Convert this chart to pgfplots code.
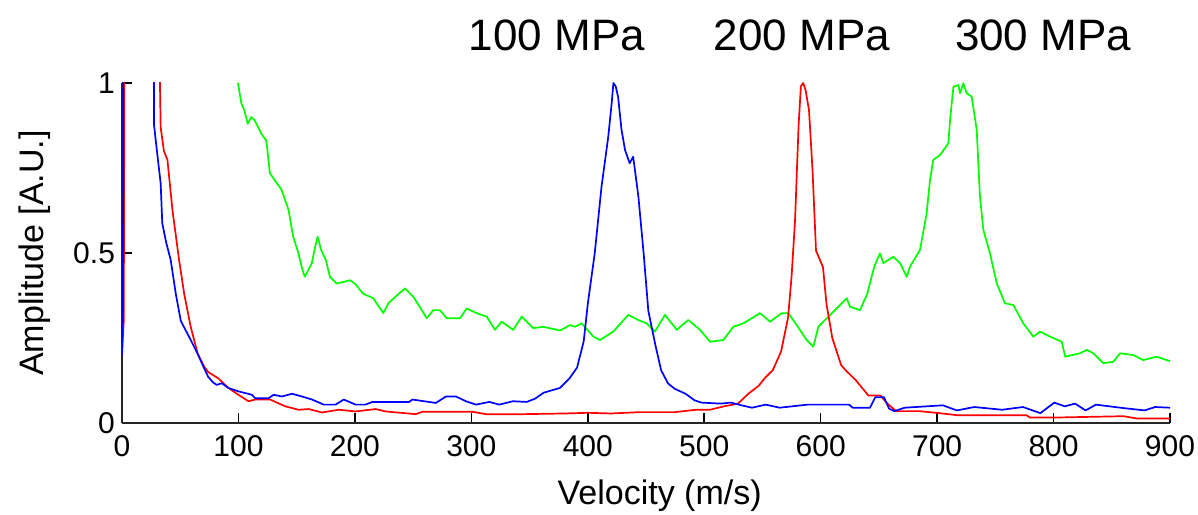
\documentclass[border=0pt]{standalone}
\usepackage{fontspec}
\setmainfont{Liberation Sans}
\usepackage{pgfplots}
\pgfplotsset{compat=1.18}
\definecolor{mblue}{RGB}{0,0,255}
\definecolor{mred}{RGB}{255,0,0}
\definecolor{mgreen}{RGB}{0,255,0}
\begin{document}
\begin{tikzpicture}[x=1pt,y=1pt]
\useasboundingbox (0,0) rectangle (599,257);
\begin{axis}[at={(61pt,45.5pt)}, anchor=south west,
  scale only axis, width=524pt, height=170pt,
  xmin=0, xmax=900, ymin=0, ymax=1,
  axis x line=bottom, axis y line=left,
  axis line style={-, line width=1pt, black!85},
  tick align=inside, major tick length=5pt,
  tick style={black, line width=0.8pt},
  xtick={0,100,...,900}, ytick={0,0.5,1},
  ticklabel style={font=\fontsize{15}{18}\selectfont},
  xticklabel style={yshift=-2.5pt},
  /pgf/number format/assume math mode=true,
  xlabel={Velocity (m/s)}, ylabel={Amplitude [A.U.]},
  label style={font=\fontsize{17}{20}\selectfont},
  xlabel style={at={(axis description cs:0.513,-0.215)}, anchor=center},
  ylabel style={at={(axis description cs:-0.083,0.5)}, anchor=center},
  clip mode=individual,
  every axis plot/.append style={line width=0.85pt, line join=round},
]
\addplot[mgreen] coordinates {(99.6,1.0) (102.5,0.94) (105,0.92) (108,0.88) (111,0.9) (114,0.89) (119.8,0.85) (124,0.83) (127,0.735) (131,0.715) (137,0.686) (143,0.627) (147,0.548) (151.5,0.50) (155,0.45) (157,0.43) (160,0.45) (163,0.47) (166,0.52) (168,0.548) (171,0.509) (175,0.48) (178.6,0.43) (184.4,0.41) (191.5,0.416) (195.8,0.42) (200,0.41) (207.2,0.38) (215.8,0.367) (224.4,0.323) (228.7,0.352) (236,0.375) (243,0.396) (250.2,0.371) (256,0.34) (261.7,0.308) (267.4,0.332) (273,0.332) (278.9,0.308) (290.3,0.308) (296,0.337) (304.6,0.323) (313.2,0.313) (320.3,0.274) (326,0.298) (336,0.274) (343.3,0.313) (353.2,0.279) (361.8,0.283) (376.2,0.272) (384.7,0.288) (389,0.283) (394.8,0.293) (404.8,0.254) (410.5,0.244) (422,0.269) (434.8,0.318) (443.4,0.303) (450.6,0.293) (457.7,0.269) (466.3,0.318) (476.4,0.274) (486.3,0.303) (496.4,0.274) (505,0.239) (516.4,0.244) (525,0.283) (533.6,0.293) (547.9,0.323) (556.5,0.298) (566.6,0.323) (572.3,0.323) (579.4,0.288) (588,0.244) (593.7,0.224) (598,0.283) (605.2,0.308) (613.8,0.337) (622.4,0.367) (625.2,0.342) (633.8,0.332) (640,0.38) (646,0.46) (651,0.499) (653.8,0.47) (662.4,0.489) (668.2,0.47) (673.9,0.43) (676.7,0.46) (685.3,0.509) (691,0.617) (693.9,0.715) (696.7,0.774) (702.5,0.788) (709.7,0.823) (711.1,0.891) (714,0.989) (718.2,0.994) (719.7,0.97) (722.5,0.999) (725.4,0.97) (729.7,0.96) (734,0.862) (736.8,0.666) (739.7,0.568) (745.4,0.499) (751.2,0.411) (758.3,0.352) (765.5,0.347) (774,0.293) (782.7,0.254) (788.4,0.269) (797,0.254) (807,0.239) (810,0.195) (822.7,0.205) (828.5,0.215) (834.2,0.205) (842.7,0.176) (851.3,0.18) (857.1,0.205) (868.5,0.2) (877,0.185) (888.6,0.195) (900,0.182)};
\addplot[mred] coordinates {(0,0.2) (1.5,0.3) (2.5,1.6) (30,1.6) (32.6,1.0) (33.2,0.87) (36,0.8) (39,0.774) (43.3,0.627) (49,0.48) (53.4,0.38) (59,0.283) (65,0.204) (70.7,0.165) (74,0.15) (82.8,0.131) (91.4,0.103) (100,0.083) (108.6,0.064) (114.4,0.069) (127.3,0.069) (140.2,0.049) (151.7,0.039) (160.3,0.041) (171.8,0.031) (186.2,0.039) (200.6,0.034) (217.8,0.041) (226.4,0.034) (252.3,0.026) (258,0.033) (301,0.033) (312.6,0.026) (344,0.026) (380,0.028) (400,0.03) (420,0.028) (445,0.032) (475,0.032) (493,0.039) (505,0.039) (517,0.049) (529,0.057) (537.9,0.086) (546.9,0.11) (552.8,0.135) (558.8,0.155) (566,0.21) (572,0.31) (575,0.43) (578,0.596) (581,0.872) (583,0.99) (585,1.0) (587,0.98) (590,0.92) (593,0.744) (596,0.507) (602,0.458) (605,0.35) (610,0.25) (617.6,0.17) (621.5,0.155) (630.4,0.125) (640.9,0.081) (651.3,0.081) (657.3,0.057) (664.8,0.035) (684.2,0.035) (702,0.029) (717,0.023) (776.7,0.023) (779.7,0.016) (800.6,0.016) (860,0.02) (872.2,0.013) (900,0.013)};
\addplot[mblue] coordinates {(0,0.2) (0.8,0.33) (1.5,1.6) (25,1.6) (27.4,1.0) (27.4,0.88) (30,0.80) (33.2,0.705) (34.6,0.587) (38,0.53) (41.8,0.48) (46.2,0.38) (50.5,0.30) (57.7,0.253) (64.9,0.204) (70,0.165) (74,0.136) (78,0.12) (81.3,0.112) (85.6,0.117) (91.4,0.103) (100,0.093) (111.5,0.083) (114.4,0.073) (125.9,0.073) (130.2,0.083) (137.4,0.078) (146,0.086) (154.6,0.078) (163.2,0.069) (173.3,0.054) (183.3,0.054) (190.5,0.069) (200.6,0.054) (209,0.054) (215,0.062) (246.6,0.062) (249.4,0.069) (269.5,0.059) (278.2,0.078) (286.8,0.078) (295.4,0.064) (304,0.054) (315.5,0.062) (324,0.054) (335.6,0.064) (347.6,0.062) (355,0.072) (362,0.089) (370,0.097) (376,0.103) (384,0.13) (390.8,0.163) (396.5,0.24) (400,0.35) (406,0.50) (411.8,0.695) (417.6,0.842) (420.5,0.94) (422,1.0) (424,0.99) (426,0.96) (429,0.862) (432,0.803) (436,0.764) (439,0.783) (443.5,0.665) (448,0.498) (452,0.33) (458,0.23) (463,0.155) (469,0.116) (475,0.10) (484,0.086) (491.6,0.067) (497.6,0.06) (514,0.057) (523,0.06) (532,0.052) (541,0.045) (552.8,0.054) (564.8,0.045) (588.7,0.054) (624.5,0.054) (627.5,0.045) (642.4,0.045) (646.9,0.076) (654.3,0.076) (658.8,0.042) (663.3,0.035) (672.2,0.045) (705,0.052) (717,0.037) (731.9,0.047) (755.8,0.039) (773.7,0.047) (788.7,0.029) (800.6,0.06) (809.6,0.049) (818.5,0.057) (827.5,0.037) (836.4,0.054) (857.3,0.045) (878.2,0.037) (887.2,0.047) (900,0.045)};
\node[font=\fontsize{22}{26}\selectfont] at (axis cs:373.6,1.141) {100 MPa};
\node[font=\fontsize{22}{26}\selectfont] at (axis cs:584,1.141) {200 MPa};
\node[font=\fontsize{22}{26}\selectfont] at (axis cs:791,1.141) {300 MPa};
\end{axis}
\end{tikzpicture}
\end{document}
